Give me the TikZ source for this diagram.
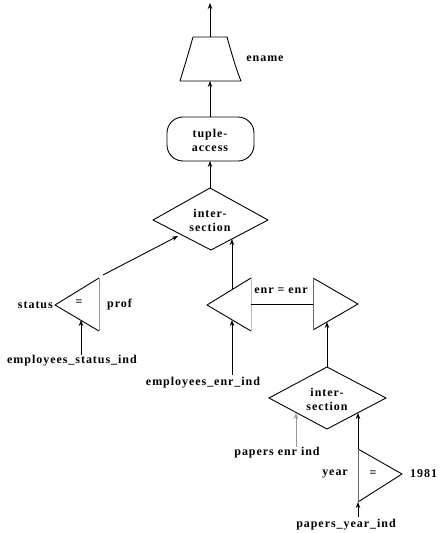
\documentclass[tikz,border=0pt]{standalone}
\usepackage{fontspec}
\newfontfamily\lbl{Liberation Serif}[LetterSpace=8]
\usetikzlibrary{arrows.meta}
\begin{document}
\begin{tikzpicture}[x=1pt,y=-1pt,
  lab/.style={inner sep=0pt,font=\lbl\bfseries\fontsize{12}{14}\selectfont},
  shp/.style={line width=0.9pt,line join=round},
  conn/.style={line width=0.9pt,-{Stealth[length=6pt,width=4.5pt]}},
  faint/.style={draw=black!40}]
\useasboundingbox (0,0) rectangle (443,533);
% coordinates
\coordinate (out) at (210,3);
\coordinate (trtop) at (210,37);
\coordinate (trbot) at (210,81);
\coordinate (tatop) at (210,117);
\coordinate (tabot) at (210,161);
\coordinate (d1top) at (210,188);
\coordinate (d1l) at (153,220);
\coordinate (d1r) at (268,220);
\coordinate (d1b) at (211,250);
\coordinate (d1in1) at (178,236);
\coordinate (d1in2) at (232,239);
\coordinate (stl) at (55,305);
\coordinate (stt) at (99,278);
\coordinate (stb) at (99,331);
\coordinate (stout) at (103,275);
\coordinate (stin) at (81,320);
\coordinate (esi) at (81,355);
\coordinate (el) at (207,305);
\coordinate (et) at (251,278);
\coordinate (eb) at (251,331);
\coordinate (eout) at (232,289);
\coordinate (ein) at (232,320);
\coordinate (eei) at (232,375);
\coordinate (jl) at (251,304);
\coordinate (jr) at (313,304);
\coordinate (rt) at (313,278);
\coordinate (rb) at (313,330);
\coordinate (rp) at (358,304);
\coordinate (rin) at (327,322);
\coordinate (d2top) at (327,367);
\coordinate (d2l) at (269,398);
\coordinate (d2r) at (386,398);
\coordinate (d2b) at (327,429);
\coordinate (d2in1) at (296,413);
\coordinate (d2in2) at (358,413);
\coordinate (pei) at (296,447);
\coordinate (yt) at (358,449);
\coordinate (yb) at (358,502);
\coordinate (yp) at (402,474);
\coordinate (pyi) at (358,517);
% shapes
\draw[shp] (193,37) -- (227,37)
  .. controls (234,62) and (238,74) .. (241,81) -- (180,81)
  .. controls (182,74) and (186,62) .. (193,37);
\draw[shp,rounded corners=16pt] (167,117) rectangle (254,161);
\draw[shp] (d1top) -- (d1r) -- (d1b) -- (d1l) -- cycle;
\draw[shp] (stt) -- (stl) -- (stb);
\draw[shp,faint] (stt) -- (stb);
\draw[shp] (et) -- (el) -- (eb);
\draw[shp,draw=black!25] (et) -- (eb);
\draw[shp] (rt) -- (rp) -- (rb);
\draw[shp,draw=black!60] (rt) -- (rb);
\draw[shp] (d2top) -- (d2r) -- (d2b) -- (d2l) -- cycle;
\draw[shp] (yt) -- (yp) -- (yb);
\draw[shp,draw=black!60] (yt) -- (yb);
% labels
\node[lab] (ename) at (265,59) {ename};
\node[lab,align=center] (ta) at (210,140) {tuple-\\access};
\node[lab,align=center] (d1) at (210,220) {inter-\\section};
\node[lab,anchor=east] (status) at (53,305) {status};
\node[lab] (eq1) at (79,303) {=};
\node[lab,anchor=west] (prof) at (107,305) {prof};
\node[lab] (esilab) at (72,361) {employees\_status\_ind};
\node[lab] (enr) at (281,291) {enr = enr};
\node[lab] (eeilab) at (203,383) {employees\_enr\_ind};
\node[lab,align=center] (d2) at (327,399) {inter-\\section};
\node[lab] (peilab) at (277,453) {papers enr ind};
\node[lab,anchor=east] (year) at (348,474) {year};
\node[lab] (eq2) at (373,474) {=};
\node[lab,anchor=west] (n1981) at (410,474) {1981};
\node[lab] (pyilab) at (346,525) {papers\_year\_ind};
% connectors
\draw[conn] (trtop) -- (out);
\draw[conn] (tatop) -- (trbot);
\draw[conn] (d1top) -- (tabot);
\draw[conn] (stout) -- (d1in1);
\draw[conn] (eout) -- (d1in2);
\draw[conn] (esi) -- (stin);
\draw[conn] (eei) -- (ein);
\draw[shp] (jl) -- (jr);
\draw[conn] (d2top) -- (rin);
\draw[conn,draw=black!40] (pei) -- (d2in1);
\draw[conn] (yt) -- (d2in2);
\draw[conn] (pyi) -- (yb);
\end{tikzpicture}
\end{document}
